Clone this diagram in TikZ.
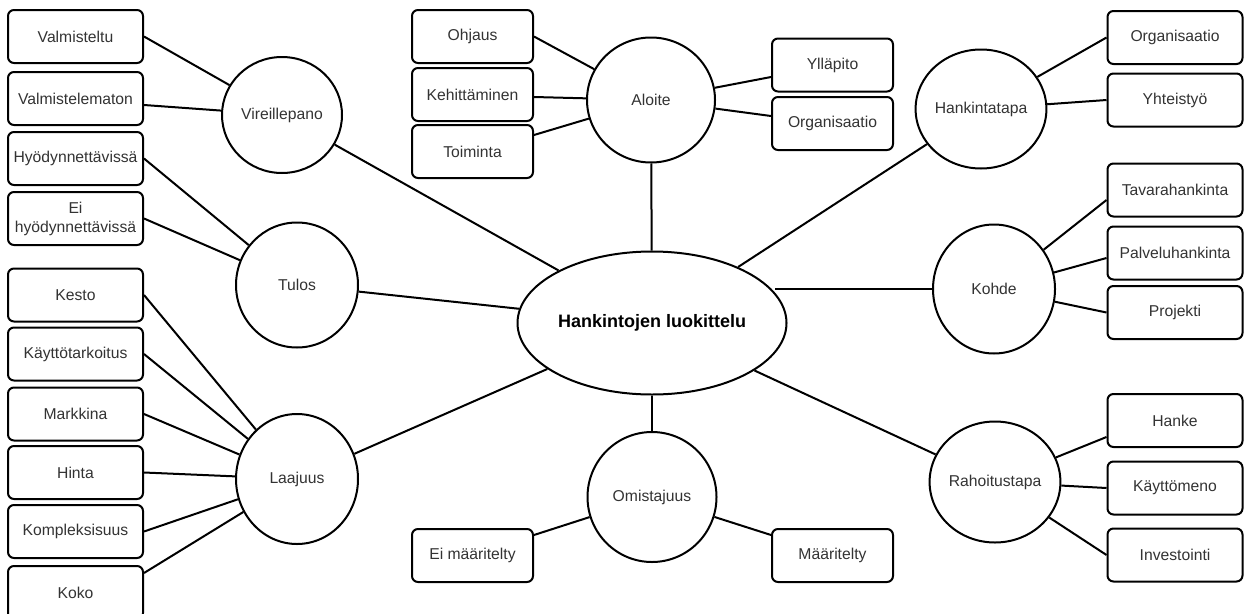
\documentclass[tikz,border=0pt]{standalone}
\usepackage{fontspec}
\setmainfont{Liberation Sans}
\usetikzlibrary{shapes.geometric}
\definecolor{ink}{HTML}{333333}

\begin{document}
\begin{tikzpicture}[x=1pt,y=-1pt,
  every node/.style={font=\fontsize{15.7}{19}\selectfont, text=ink},
  leafbox/.style={draw=black, line width=2pt, rounded corners=6pt, fill=white,
                  minimum height=53pt, inner sep=0pt, align=center, minimum width=#1},
  leafbox/.default=135pt,
  topic/.style n args={2}{draw=black, ellipse, line width=2pt, fill=white,
                  inner sep=0pt, minimum width=#1, minimum height=#2},
  hub/.style={draw=black, ellipse, line width=2pt, fill=white, inner sep=0pt,
              minimum width=269pt, minimum height=143pt,
              font=\fontsize{18}{22}\selectfont\bfseries, text=black},
  link/.style={draw=black, line width=2pt}
]
\useasboundingbox (0,0) rectangle (1244,613);
\clip (0,0) rectangle (1244,613);
\fill[white] (0,0) rectangle (1244,613);

% central hub
\node[hub] (centre) at (652,323) {Hankintojen luokittelu};

% first-level topics
\node[topic={120pt}{116pt}] (vir)    at (282,115) {Vireillepano};
\node[topic={122pt}{125pt}] (tulos)  at (297,285) {Tulos};
\node[topic={122pt}{130pt}] (laaj)   at (297,479) {Laajuus};
\node[topic={128pt}{125pt}] (aloite) at (651,100) {Aloite};
\node[topic={122pt}{119pt}] (hankt)  at (981,109) {Hankintatapa};
\node[topic={122pt}{129pt}] (kohde)  at (994,289) {Kohde};
\node[topic={120pt}{121pt}] (rahoit) at (995,482) {Rahoitustapa};
\node[topic={129pt}{130pt}] (omist)  at (652,497) {Omistajuus};

% left column
\node[leafbox] (valm)   at (75.5,36.5)  {Valmisteltu};
\node[leafbox] (valmt)  at (75.5,98.5)  {Valmistelematon};
\node[leafbox] (hyod)   at (75.5,158.5) {Hyödynnettävissä};
\node[leafbox] (eihyod) at (75.5,218.5) {Ei\\hyödynnettävissä};
\node[leafbox] (kesto)  at (75.5,295)   {Kesto};
\node[leafbox] (kaytto) at (75.5,354)   {Käyttötarkoitus};
\node[leafbox] (markk)  at (75.5,414)   {Markkina};
\node[leafbox] (hinta)  at (75.5,472.5) {Hinta};
\node[leafbox] (kompl)  at (75.5,531.5) {Kompleksisuus};
\node[leafbox] (koko)   at (75.5,592.5) {Koko};

% around Aloite
\node[leafbox=121pt] (ohjaus)   at (472.5,36.5)  {Ohjaus};
\node[leafbox=121pt] (kehitt)   at (472.5,94.5)  {Kehittäminen};
\node[leafbox=121pt] (toiminta) at (472.5,151.5) {Toiminta};
\node[leafbox=121pt] (yllap)    at (832.5,65)    {Ylläpito};
\node[leafbox=121pt] (orgA)     at (832.5,123.5) {Organisaatio};

% right column
\node[leafbox] (orgB)    at (1175,37.5)  {Organisaatio};
\node[leafbox] (yhteis)  at (1175,100)   {Yhteistyö};
\node[leafbox] (tavara)  at (1175,190)   {Tavarahankinta};
\node[leafbox] (palvelu) at (1175,253)   {Palveluhankinta};
\node[leafbox] (projekti)at (1175,312.5) {Projekti};
\node[leafbox] (hanke)   at (1175,420.5) {Hanke};
\node[leafbox] (kmeno)   at (1175,488)   {Käyttömeno};
\node[leafbox] (invest)  at (1175,555)   {Investointi};

% under Omistajuus
\node[leafbox=121pt] (eimaar) at (472.5,555.5) {Ei määritelty};
\node[leafbox=121pt] (maar)   at (832.5,555.5) {Määritelty};

% hub connectors
\draw[link] (vir) -- (centre);
\draw[link] (tulos) -- (centre);
\draw[link] (laaj) -- (centre);
\draw[link] (aloite) -- (centre);
\draw[link] (hankt) -- (centre);
\draw[link] (kohde) -- (kohde -| centre.14);
\draw[link] (rahoit) -- (centre);
\draw[link] (omist) -- (centre);

% Vireillepano and Tulos
\draw[link] (valm.east) -- (vir);
\draw[link] ([yshift=-6.5pt]valmt.east) -- (vir);
\draw[link] (hyod.east) -- (tulos);
\draw[link] (eihyod.east) -- (tulos);

% Laajuus
\draw[link] (kesto.east) -- (laaj);
\draw[link] (kaytto.east) -- (laaj);
\draw[link] (markk.east) -- (laaj);
\draw[link] (hinta.east) -- (laaj);
\draw[link] (kompl.east) -- (laaj);
\draw[link] ([yshift=19.5pt]koko.east) -- (laaj);

% Aloite
\draw[link] (ohjaus.east) -- (aloite);
\draw[link] ([yshift=-2.5pt]kehitt.east) -- (aloite);
\draw[link] ([yshift=16.5pt]toiminta.east) -- (aloite);
\draw[link] ([yshift=-12pt]yllap.west) -- (aloite);
\draw[link] ([yshift=7.5pt]orgA.west) -- (aloite);

% Hankintatapa, Kohde, Rahoitustapa
\draw[link] (orgB.west) -- (hankt);
\draw[link] (yhteis.west) -- (hankt);
\draw[link] ([yshift=-10pt]tavara.west) -- (kohde);
\draw[link] ([yshift=-5pt]palvelu.west) -- (kohde);
\draw[link] (projekti.west) -- (kohde);
\draw[link] ([yshift=-16.5pt]hanke.west) -- (rahoit);
\draw[link] (kmeno.west) -- (rahoit);
\draw[link] (invest.west) -- (rahoit);

% Omistajuus
\draw[link] ([yshift=20.5pt]eimaar.east) -- (omist);
\draw[link] ([yshift=20.5pt]maar.west) -- (omist);
\end{tikzpicture}
\end{document}
